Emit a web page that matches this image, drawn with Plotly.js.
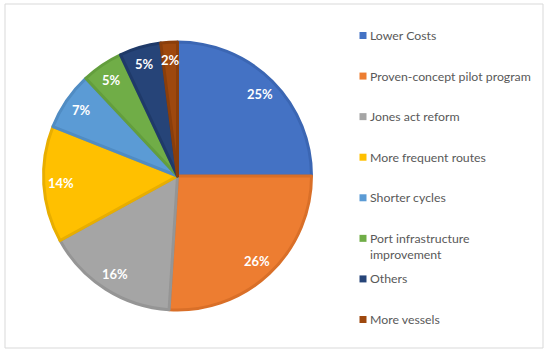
<!DOCTYPE html>
<html>
<head>
<meta charset="utf-8">
<script src="https://cdn.plot.ly/plotly-3.0.1.min.js"></script>
<style>html,body{margin:0;padding:0;background:#fff;}#chart{width:550px;height:356px;}</style>
</head>
<body>
<div id="chart"></div>
<script>
const categories = ["Lower Costs", "Proven-concept pilot program", "Jones act reform", "More frequent routes", "Shorter cycles", "Port infrastructure improvement", "Others", "More vessels"];
const legendLabels = ["Lower Costs", "Proven-concept pilot program", "Jones act reform", "More frequent routes", "Shorter cycles", "Port infrastructure<br>improvement", "Others", "More vessels"];
const shares = [25, 26, 16, 14, 7, 5, 5, 2];
const fillColors = ["#4472C4", "#ED7D31", "#A5A5A5", "#FFC000", "#5B9BD5", "#70AD47", "#264478", "#9E480E"];
const edgeColors = ["#3B66B3", "#D96F28", "#959595", "#E8AE00", "#508CC3", "#639E3D", "#1F3A69", "#8A3E0B"];

const W = 550, H = 356;
const cx = 177.5, cy = 176, R = 134;
const labelR = 0.87 * R;
const legTop = 35.5, legStep = 40.57, legX = 363;

const idx = categories.map((_, i) => i);
const total = shares.reduce((a, b) => a + b, 0);

const pie = {
  type: 'pie',
  labels: categories,
  values: shares,
  sort: false,
  direction: 'clockwise',
  rotation: 0,
  marker: {colors: fillColors, line: {color: edgeColors, width: 3}},
  textinfo: 'none',
  hoverinfo: 'label+percent',
  showlegend: false,
  domain: {x: [(cx - R) / W, (cx + R) / W], y: [(H - cy - R) / H, (H - cy + R) / H]}
};

const legendMarks = {
  type: 'scatter',
  mode: 'markers',
  x: idx.map(() => 0),
  y: idx,
  marker: {symbol: 'square', size: 7, color: fillColors, line: {width: 0}},
  hoverinfo: 'skip',
  showlegend: false,
  cliponaxis: false
};

const legendText = legendLabels.map((t, i) => ({
  xref: 'x', yref: 'y', x: 0, y: i,
  text: t, showarrow: false, align: 'left',
  xanchor: 'left', yanchor: t.includes('<br>') ? 'top' : 'middle',
  xshift: 5, yshift: t.includes('<br>') ? 9 : 0,
  font: {family: 'Lato, "Open Sans", sans-serif', size: 12.3, color: '#595959'}
}));

// percentage labels placed at each slice's mid-angle (computed from the shares)
let cum = 0;
const pctText = shares.map((v) => {
  const th = 2 * Math.PI * (cum + v / 2) / total;
  cum += v;
  const px = cx + labelR * Math.sin(th);
  const py = cy - labelR * Math.cos(th);
  return {
    xref: 'paper', yref: 'paper', x: px / W, y: (H - py) / H,
    text: Math.round(100 * v / total) + '%', showarrow: false,
    xanchor: 'center', yanchor: 'middle',
    font: {family: 'Lato, "Open Sans", sans-serif', size: 13, color: '#ffffff', weight: 'bold'}
  };
});

const layout = {
  width: W, height: H,
  margin: {l: 0, r: 0, t: 0, b: 0},
  paper_bgcolor: '#ffffff', plot_bgcolor: 'rgba(0,0,0,0)',
  xaxis: {domain: [legX / W, 1], range: [0, 10], visible: false, fixedrange: true},
  yaxis: {domain: [0, 1], range: [(H - legTop) / legStep, -legTop / legStep], visible: false, fixedrange: true},
  annotations: legendText.concat(pctText),
  shapes: [{type: 'rect', xref: 'paper', yref: 'paper', x0: 5 / W, x1: 543 / W, y0: (H - 348) / H, y1: (H - 4) / H, line: {color: '#d9d9d9', width: 1}}]
};

Plotly.newPlot('chart', [pie, legendMarks], layout, {displayModeBar: false, staticPlot: true});
</script>
</body>
</html>
